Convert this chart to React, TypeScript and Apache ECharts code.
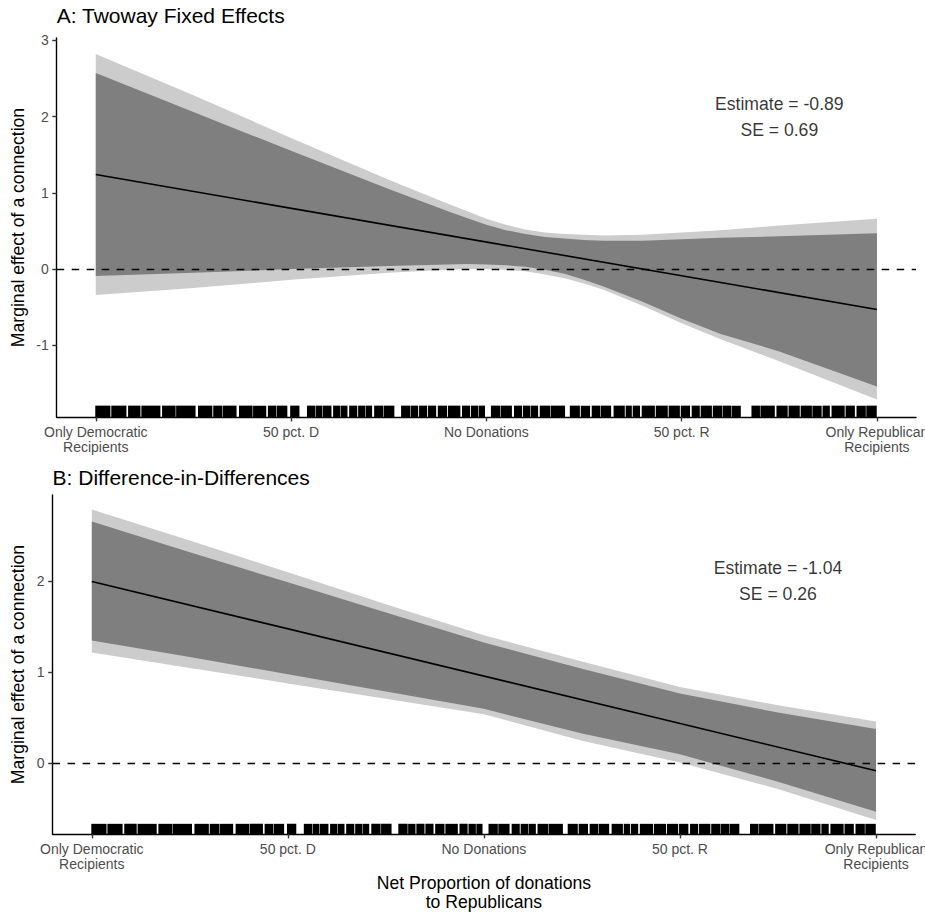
import React, { useEffect, useRef } from "react";
import * as echarts from "echarts";

// ---------- data ----------
const xTickValues = [-1, -0.5, 0, 0.5, 1];
const xTickLabels = ["Only Democratic\nRecipients", "50 pct. D", "No Donations", "50 pct. R", "Only Republican\nRecipients"];
const yTicksA = [-1, 0, 1, 2, 3];
const yTicksB = [0, 1, 2];

// Panel A: Twoway Fixed Effects
const xA = [-1, -0.75, -0.5, -0.25, -0.1, -0.05, 0, 0.05, 0.1, 0.15, 0.2, 0.25, 0.3, 0.4, 0.5, 0.6, 0.75, 1];
const aOuterUpper = [2.82, 2.28, 1.72, 1.17, 0.86, 0.76, 0.66, 0.58, 0.52, 0.48, 0.46, 0.45, 0.44, 0.45, 0.48, 0.51, 0.57, 0.66];
const aInnerUpper = [2.57, 2.06, 1.55, 1.05, 0.76, 0.67, 0.58, 0.51, 0.46, 0.42, 0.4, 0.38, 0.37, 0.37, 0.39, 0.41, 0.43, 0.47];
const aInnerLower = [-0.09, -0.05, 0.0, 0.04, 0.06, 0.065, 0.06, 0.05, 0.03, -0.01, -0.06, -0.14, -0.23, -0.43, -0.65, -0.85, -1.08, -1.54];
const aOuterLower = [-0.34, -0.25, -0.14, -0.05, -0.01, 0.0, 0.0, -0.01, -0.03, -0.07, -0.12, -0.19, -0.27, -0.48, -0.71, -0.92, -1.21, -1.71];
const aEstimateX = [-1, 1];
const aEstimateY = [1.24, -0.53];
const aAnnotation = "Estimate = -0.89\nSE = 0.69";

// Panel B: Difference-in-Differences
const xB = [-1, -0.75, -0.5, -0.25, 0, 0.25, 0.5, 0.75, 1];
const bOuterUpper = [2.79, 2.45, 2.1, 1.75, 1.41, 1.12, 0.84, 0.64, 0.46];
const bInnerUpper = [2.66, 2.32, 1.99, 1.66, 1.33, 1.04, 0.77, 0.56, 0.38];
const bInnerLower = [1.35, 1.17, 0.98, 0.79, 0.6, 0.33, 0.1, -0.2, -0.53];
const bOuterLower = [1.22, 1.05, 0.88, 0.71, 0.54, 0.25, 0.01, -0.28, -0.62];
const bEstimateX = [-1, 1];
const bEstimateY = [2.0, -0.08];
const bAnnotation = "Estimate = -1.04\nSE = 0.26";

const annotationPos = [0.75, 2];

// Rug: observations span -1..1; gaps (white) between dense ticks
const rugRange = [-1, 1];
const rugGaps = [
  [-0.962, -0.959], [-0.921, -0.916], [-0.885, -0.882], [-0.834, -0.829], [-0.795, -0.793],
  [-0.744, -0.737], [-0.701, -0.698], [-0.675, -0.673], [-0.639, -0.632], [-0.598, -0.596],
  [-0.563, -0.558], [-0.537, -0.535], [-0.509, -0.501], [-0.478, -0.458], [-0.437, -0.435],
  [-0.419, -0.417], [-0.396, -0.391], [-0.373, -0.371], [-0.355, -0.35], [-0.33, -0.327],
  [-0.309, -0.307], [-0.292, -0.286], [-0.263, -0.261], [-0.235, -0.217], [-0.194, -0.192],
  [-0.174, -0.171], [-0.151, -0.148], [-0.128, -0.123], [-0.1, -0.097], [-0.066, -0.061],
  [-0.041, -0.038], [-0.02, -0.018], [-0.003, 0.013], [0.036, 0.038], [0.066, 0.072],
  [0.092, 0.095], [0.113, 0.115], [0.133, 0.138], [0.164, 0.166], [0.202, 0.215],
  [0.24, 0.243], [0.266, 0.271], [0.292, 0.294], [0.32, 0.327], [0.355, 0.358],
  [0.373, 0.376], [0.394, 0.399], [0.432, 0.435], [0.465, 0.468], [0.496, 0.499],
  [0.522, 0.527], [0.547, 0.55], [0.578, 0.581], [0.604, 0.606], [0.627, 0.629],
  [0.652, 0.68], [0.701, 0.703], [0.739, 0.744], [0.772, 0.775], [0.803, 0.806],
  [0.834, 0.836], [0.859, 0.862], [0.88, 0.885], [0.918, 0.921], [0.944, 0.949],
  [0.972, 0.974],
];

const X_TITLE = "Net Proportion of donations\nto Republicans";
const Y_TITLE = "Marginal effect of a connection";
const TITLE_A = "A: Twoway Fixed Effects";
const TITLE_B = "B: Difference-in-Differences";

// ---------- layout / style ----------
const FONT = "'Liberation Sans', Arial, Helvetica, sans-serif";
const gridA = { left: 56.7, top: 38, width: 859.3, height: 379 };
const gridB = { left: 52.6, top: 495, width: 862.6, height: 339 };
const yRangeA = [-1.94, 3.03];
const yRangeB = [-0.775, 2.95];
const xRange = [-1.1, 1.1];

function rugSegments() {
  const segs: number[][] = [];
  let prev = rugRange[0];
  for (const g of rugGaps) {
    segs.push([prev, g[0]]);
    prev = g[1];
  }
  segs.push([prev, rugRange[1]]);
  return segs;
}

function labelFor(v: number) {
  const i = xTickValues.findIndex((t) => Math.abs(t - v) < 1e-6);
  return i >= 0 ? xTickLabels[i] : "";
}

function makeXAxis(gridIndex: number) {
  return {
    type: "value",
    gridIndex,
    min: xRange[0],
    max: xRange[1],
    splitLine: { show: false },
    axisLine: { show: true, onZero: false, lineStyle: { color: "#000", width: 1.4 } },
    axisTick: { show: true, length: 4.4, customValues: xTickValues, lineStyle: { color: "#333", width: 1.4 } },
    axisLabel: {
      show: true,
      customValues: xTickValues,
      formatter: (v: number) => labelFor(v),
      color: "#4D4D4D",
      fontSize: 14,
      lineHeight: 15,
      margin: 7,
      fontFamily: FONT,
      hideOverlap: false,
    },
  };
}

function makeYAxis(gridIndex: number, range: number[], ticks: number[]) {
  return {
    type: "value",
    gridIndex,
    min: range[0],
    max: range[1],
    splitLine: { show: false },
    axisLine: { show: true, onZero: false, lineStyle: { color: "#000", width: 1.4 } },
    axisTick: { show: true, length: 4.4, customValues: ticks, lineStyle: { color: "#333", width: 1.4 } },
    axisLabel: {
      show: true,
      customValues: ticks,
      color: "#4D4D4D",
      fontSize: 14,
      margin: 8,
      fontFamily: FONT,
    },
  };
}

function band(idx: number, xs: number[], lower: number[], upper: number[], color: string, z: number) {
  return {
    type: "custom",
    xAxisIndex: idx,
    yAxisIndex: idx,
    data: xs.map((x, i) => [x, lower[i], upper[i]]),
    encode: { x: 0, y: [1, 2] },
    silent: true,
    z,
    renderItem: (params: any, api: any) => {
      if (params.dataIndex !== 0) return null;
      const top = xs.map((x, i) => api.coord([x, upper[i]]));
      const bottom = xs.map((x, i) => api.coord([x, lower[i]])).reverse();
      return {
        type: "polygon",
        shape: { points: [...top, ...bottom] },
        style: { fill: color, stroke: "none" },
      };
    },
  };
}

function panelSeries(
  idx: number,
  xs: number[],
  oL: number[],
  oU: number[],
  iL: number[],
  iU: number[],
  ex: number[],
  ey: number[],
  yMin: number,
  text: string
) {
  return [
    band(idx, xs, oL, oU, "#CCCCCC", 1),
    band(idx, xs, iL, iU, "#7F7F7F", 2),
    {
      type: "line",
      xAxisIndex: idx,
      yAxisIndex: idx,
      data: ex.map((x, i) => [x, ey[i]]),
      symbol: "none",
      lineStyle: { color: "#000", width: 1.6 },
      silent: true,
      z: 4,
      markLine: {
        silent: true,
        symbol: ["none", "none"],
        label: { show: false },
        lineStyle: { color: "#000", width: 1.4, type: [7.5, 7.5] },
        data: [{ yAxis: 0 }],
        z: 3,
      },
    },
    {
      type: "custom",
      xAxisIndex: idx,
      yAxisIndex: idx,
      data: rugSegments().map((s) => [s[0], s[1], yMin]),
      encode: { x: [0, 1], y: 2 },
      silent: true,
      z: 5,
      renderItem: (params: any, api: any) => {
        const a = api.coord([api.value(0), api.value(2)]);
        const b = api.coord([api.value(1), api.value(2)]);
        const h = params.coordSys.height * 0.03;
        const x0 = a[0] - 0.5;
        const w = Math.max(b[0] - a[0] + 0.3, 1);
        return {
          type: "rect",
          shape: { x: x0, y: a[1] - h, width: w, height: h },
          style: { fill: "#000" },
        };
      },
    },
    {
      type: "scatter",
      xAxisIndex: idx,
      yAxisIndex: idx,
      data: [annotationPos],
      symbolSize: 1,
      itemStyle: { color: "rgba(0,0,0,0)" },
      silent: true,
      z: 6,
      label: {
        show: true,
        position: "inside",
        formatter: text,
        color: "#000",
        fontSize: 17.6,
        lineHeight: 26,
        fontFamily: FONT,
        align: "center",
      },
    },
  ];
}

export default function App() {
  const ref = useRef<HTMLDivElement>(null);
  useEffect(() => {
    if (!ref.current) return;
    const chart = echarts.init(ref.current, undefined, { renderer: "svg" });
    const option: any = {
      animation: false,
      backgroundColor: "#fff",
      textStyle: { fontFamily: FONT },
      grid: [
        { ...gridA, containLabel: false },
        { ...gridB, containLabel: false },
      ],
      xAxis: [makeXAxis(0), makeXAxis(1)],
      yAxis: [makeYAxis(0, yRangeA, yTicksA), makeYAxis(1, yRangeB, yTicksB)],
      series: [
        ...panelSeries(0, xA, aOuterLower, aOuterUpper, aInnerLower, aInnerUpper, aEstimateX, aEstimateY, yRangeA[0], aAnnotation),
        ...panelSeries(1, xB, bOuterLower, bOuterUpper, bInnerLower, bInnerUpper, bEstimateX, bEstimateY, yRangeB[0], bAnnotation),
      ],
      graphic: [
        {
          type: "text",
          x: 56.7,
          y: 15.5,
          style: { text: TITLE_A, font: `21px ${FONT}`, fill: "#000", verticalAlign: "middle", align: "left" },
        },
        {
          type: "text",
          x: 52.6,
          y: 477,
          style: { text: TITLE_B, font: `21px ${FONT}`, fill: "#000", verticalAlign: "middle", align: "left" },
        },
        {
          type: "text",
          x: 17.5,
          y: gridA.top + gridA.height / 2,
          rotation: Math.PI / 2,
          style: { text: Y_TITLE, font: `17.6px ${FONT}`, fill: "#000", verticalAlign: "middle", align: "center" },
        },
        {
          type: "text",
          x: 17.5,
          y: gridB.top + gridB.height / 2,
          rotation: Math.PI / 2,
          style: { text: Y_TITLE, font: `17.6px ${FONT}`, fill: "#000", verticalAlign: "middle", align: "center" },
        },
        {
          type: "text",
          x: gridB.left + gridB.width / 2,
          y: 892,
          style: {
            text: X_TITLE,
            font: `17.6px ${FONT}`,
            lineHeight: 19,
            fill: "#000",
            verticalAlign: "middle",
            align: "center",
          },
        },
      ],
    };
    chart.setOption(option);
    return () => chart.dispose();
  }, []);
  return (
    <div style={{ position: "absolute", left: 0, top: 0, width: 925, height: 912, overflow: "hidden", background: "#fff" }}>
      <div ref={ref} style={{ position: "absolute", left: 0, top: 0, width: 945, height: 912 }} />
    </div>
  );
}
